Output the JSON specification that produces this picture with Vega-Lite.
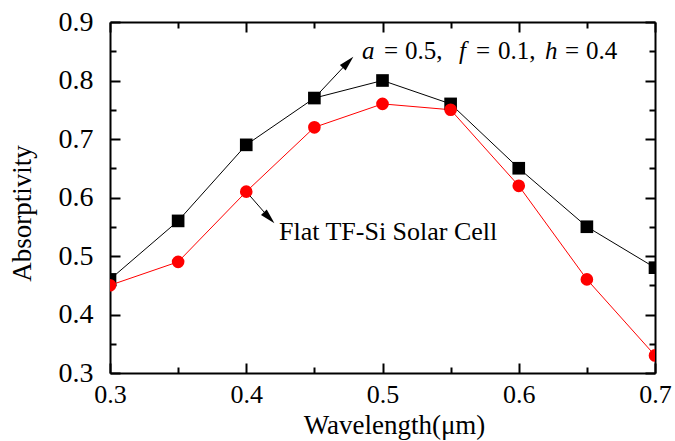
{
  "$schema": "https://vega.github.io/schema/vega-lite/v6.json",
  "width": 545,
  "height": 351,
  "autosize": "none",
  "padding": {"left": 110, "top": 22, "right": 20, "bottom": 68},
  "background": "white",
  "config": {"view": {"stroke": null}, "font": "Liberation Serif", "text": {"font": "Liberation Serif"}},
  "datasets": {
    "curves": [
      {"wl": 0.30, "abs": 0.46, "s": "Grating"},
      {"wl": 0.35, "abs": 0.56, "s": "Grating"},
      {"wl": 0.40, "abs": 0.69, "s": "Grating"},
      {"wl": 0.45, "abs": 0.77, "s": "Grating"},
      {"wl": 0.50, "abs": 0.80, "s": "Grating"},
      {"wl": 0.55, "abs": 0.76, "s": "Grating"},
      {"wl": 0.60, "abs": 0.65, "s": "Grating"},
      {"wl": 0.65, "abs": 0.55, "s": "Grating"},
      {"wl": 0.70, "abs": 0.48, "s": "Grating"},
      {"wl": 0.30, "abs": 0.45, "s": "Flat"},
      {"wl": 0.35, "abs": 0.49, "s": "Flat"},
      {"wl": 0.40, "abs": 0.61, "s": "Flat"},
      {"wl": 0.45, "abs": 0.72, "s": "Flat"},
      {"wl": 0.50, "abs": 0.76, "s": "Flat"},
      {"wl": 0.55, "abs": 0.75, "s": "Flat"},
      {"wl": 0.60, "abs": 0.62, "s": "Flat"},
      {"wl": 0.65, "abs": 0.46, "s": "Flat"},
      {"wl": 0.70, "abs": 0.33, "s": "Flat"}
    ],
    "arrows": [
      {"x": 0.45, "y": 0.77, "x2": 0.4745, "y2": 0.8308},
      {"x": 0.40, "y": 0.61, "x2": 0.4166, "y2": 0.5658}
    ]
  },
  "resolve": {"axis": {"x": "independent", "y": "independent"}},
  "layer": [
    {
      "data": {"name": "curves"},
      "mark": {"type": "line", "strokeWidth": 1, "clip": true},
      "encoding": {
        "x": {
          "field": "wl", "type": "quantitative",
          "scale": {"domain": [0.3, 0.7], "nice": false, "zero": false},
          "axis": {
            "orient": "bottom",
            "title": "Wavelength(μm)",
            "values": [0.3, 0.35, 0.4, 0.45, 0.5, 0.55, 0.6, 0.65, 0.7],
            "labelExpr": "round(datum.value*20) % 2 == 0 ? format(datum.value, '.1f') : ''",
            "labelFont": "Liberation Serif", "labelFontSize": 26, "labelColor": "black",
            "labelPadding": 18, "labelFlush": false, "labelOverlap": false,
            "titleFont": "Liberation Serif", "titleFontSize": 27, "titleFontWeight": "normal",
            "titleColor": "black", "titlePadding": 1, "titleX": 284,
            "domainColor": "black", "domainWidth": 2,
            "tickColor": "black", "tickWidth": 2,
            "tickSize": {"condition": {"test": "round(datum.value*20) % 2 == 0", "value": -10}, "value": -6},
            "grid": false
          }
        },
        "y": {
          "field": "abs", "type": "quantitative",
          "scale": {"domain": [0.3, 0.9], "nice": false, "zero": false},
          "axis": {
            "orient": "left",
            "title": "Absorptivity",
            "values": [0.3, 0.35, 0.4, 0.45, 0.5, 0.55, 0.6, 0.65, 0.7, 0.75, 0.8, 0.85, 0.9],
            "labelExpr": "round(datum.value*20) % 2 == 0 ? format(datum.value, '.1f') : ''",
            "labelFont": "Liberation Serif", "labelFontSize": 28, "labelColor": "black",
            "labelPadding": 27, "labelFlush": false, "labelOverlap": false,
            "titleFont": "Liberation Serif", "titleFontSize": 27, "titleFontWeight": "normal",
            "titleColor": "black", "titlePadding": 22, "titleY": 191,
            "domainColor": "black", "domainWidth": 2,
            "tickColor": "black", "tickWidth": 2,
            "tickSize": {"condition": {"test": "round(datum.value*20) % 2 == 0", "value": -10}, "value": -6},
            "grid": false
          }
        },
        "color": {"field": "s", "type": "nominal", "scale": {"domain": ["Grating", "Flat"], "range": ["#000000", "#ff0000"]}, "legend": null}
      }
    },
    {
      "data": {"name": "arrows"},
      "mark": {"type": "rule", "color": "black", "strokeWidth": 1},
      "encoding": {
        "x": {"field": "x", "type": "quantitative", "axis": null},
        "y": {"field": "y", "type": "quantitative", "axis": null},
        "x2": {"field": "x2"},
        "y2": {"field": "y2"}
      }
    },
    {
      "data": {"name": "curves"},
      "mark": {"type": "point", "filled": true, "opacity": 1, "size": 160, "clip": true},
      "encoding": {
        "x": {
          "field": "wl", "type": "quantitative",
          "axis": {
            "orient": "top", "title": null, "labels": false,
            "values": [0.3, 0.35, 0.4, 0.45, 0.5, 0.55, 0.6, 0.65, 0.7],
            "domainColor": "black", "domainWidth": 2,
            "tickColor": "black", "tickWidth": 2,
            "tickSize": {"condition": {"test": "round(datum.value*20) % 2 == 0", "value": -10}, "value": -6},
            "grid": false
          }
        },
        "y": {
          "field": "abs", "type": "quantitative",
          "axis": {
            "orient": "right", "title": null, "labels": false,
            "values": [0.3, 0.35, 0.4, 0.45, 0.5, 0.55, 0.6, 0.65, 0.7, 0.75, 0.8, 0.85, 0.9],
            "domainColor": "black", "domainWidth": 2,
            "tickColor": "black", "tickWidth": 2,
            "tickSize": {"condition": {"test": "round(datum.value*20) % 2 == 0", "value": -10}, "value": -6},
            "grid": false
          }
        },
        "color": {"field": "s", "type": "nominal", "legend": null},
        "shape": {"field": "s", "type": "nominal", "scale": {"domain": ["Grating", "Flat"], "range": ["square", "circle"]}, "legend": null}
      }
    },
    {
      "data": {"values": [{"x": 0.4745, "y": 0.8308}]},
      "mark": {"type": "point", "shape": "M0,-1L0.5,0.9L-0.5,0.9Z", "filled": true, "color": "black", "opacity": 1, "size": 256, "angle": 44},
      "encoding": {
        "x": {"field": "x", "type": "quantitative", "axis": null},
        "y": {"field": "y", "type": "quantitative", "axis": null}
      }
    },
    {
      "data": {"values": [{"x": 0.4166, "y": 0.5658}]},
      "mark": {"type": "point", "shape": "M0,-1L0.5,0.9L-0.5,0.9Z", "filled": true, "color": "black", "opacity": 1, "size": 256, "angle": 136},
      "encoding": {
        "x": {"field": "x", "type": "quantitative", "axis": null},
        "y": {"field": "y", "type": "quantitative", "axis": null}
      }
    },
    {
      "data": {"values": [
        {"t": "a", "x": 0.4850},
        {"t": "f", "x": 0.5561},
        {"t": "h", "x": 0.6193}
      ]},
      "mark": {"type": "text", "font": "Liberation Serif", "fontStyle": "italic", "fontSize": 25, "align": "left", "baseline": "alphabetic", "color": "black"},
      "encoding": {
        "x": {"field": "x", "type": "quantitative", "axis": null},
        "y": {"datum": 0.837, "type": "quantitative", "axis": null},
        "text": {"field": "t"}
      }
    },
    {
      "data": {"values": [
        {"t": "=", "x": 0.5011},
        {"t": "0.5,", "x": 0.5165},
        {"t": "=", "x": 0.5686},
        {"t": "0.1,", "x": 0.5848},
        {"t": "=", "x": 0.6339},
        {"t": "0.4", "x": 0.6494}
      ]},
      "mark": {"type": "text", "font": "Liberation Serif", "fontSize": 25, "align": "left", "baseline": "alphabetic", "color": "black"},
      "encoding": {
        "x": {"field": "x", "type": "quantitative", "axis": null},
        "y": {"datum": 0.837, "type": "quantitative", "axis": null},
        "text": {"field": "t"}
      }
    },
    {
      "data": {"values": [{"t": "Flat TF-Si Solar Cell", "x": 0.424, "y": 0.5274}]},
      "mark": {"type": "text", "font": "Liberation Serif", "fontSize": 26, "align": "left", "baseline": "alphabetic", "color": "black"},
      "encoding": {
        "x": {"field": "x", "type": "quantitative", "axis": null},
        "y": {"field": "y", "type": "quantitative", "axis": null},
        "text": {"field": "t"}
      }
    }
  ]
}
